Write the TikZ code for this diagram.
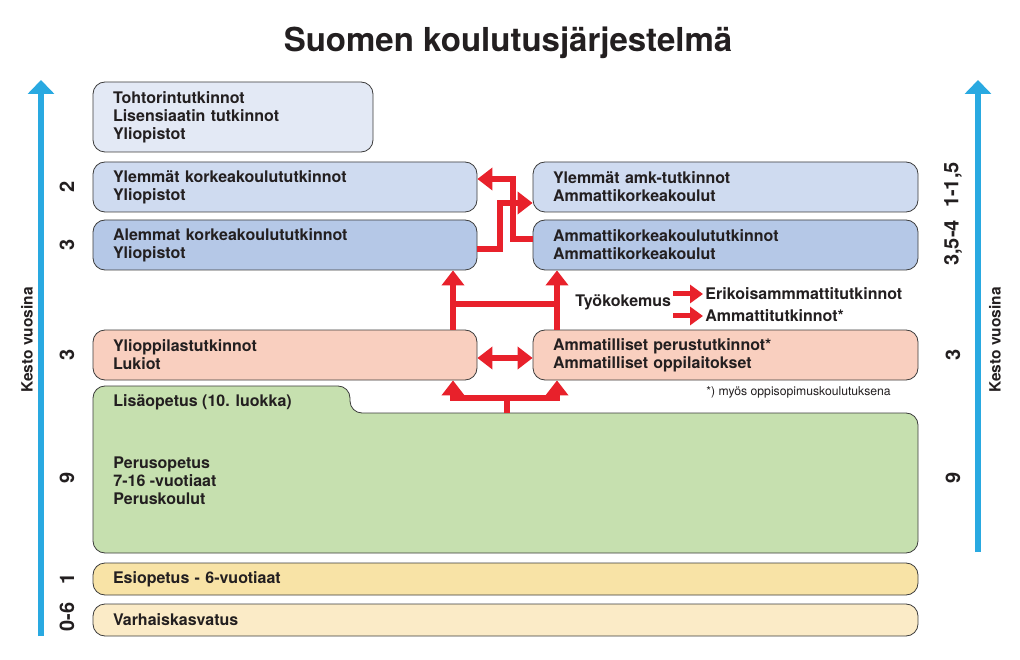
\documentclass[tikz,border=0pt]{standalone}
\usepackage{fontspec}
\setmainfont{TeX Gyre Heros}
\usetikzlibrary{arrows.meta,positioning}
\definecolor{tohtoriblue}{HTML}{E3E9F5}
\definecolor{lightblue}{HTML}{CFDBF0}
\definecolor{midblue}{HTML}{B5C8E7}
\definecolor{pinkbox}{HTML}{F9CFBF}
\definecolor{greenbox}{HTML}{C6E0AF}
\definecolor{yellowbox}{HTML}{F8E3A6}
\definecolor{creambox}{HTML}{FBEBC7}
\definecolor{arrowred}{HTML}{E8212B}
\definecolor{axisblue}{HTML}{29A9E1}
\definecolor{edgegray}{HTML}{3C3C3C}
\definecolor{textblack}{HTML}{231F20}

\begin{document}
\begin{tikzpicture}
[x=1pt, y=-1pt, line width=0.8pt,
level/.style={rectangle, draw=edgegray, rounded corners=12pt, inner xsep=20pt, inner ysep=0pt, align=left, text=textblack, font=\fontsize{16}{18}\selectfont\bfseries},
leftcol/.style={level, text width=344pt, minimum height=50pt},
rightcol/.style={level, text width=345pt, minimum height=50pt},
wide/.style={level, text width=785pt, minimum height=32pt},
note/.style={inner xsep=2pt, inner ysep=0pt, text=textblack, font=\fontsize{16}{18}\selectfont\bfseries},
years/.style={rotate=90, inner sep=0pt, text=textblack, font=\fontsize{20}{22}\selectfont\bfseries},
link/.style={draw=arrowred, line width=6pt},
route/.style={link, -{Triangle[width=22pt,length=15pt]}},
twoway/.style={link, {Triangle[width=22pt,length=15pt]}-{Triangle[width=22pt,length=15pt]}},
shortroute/.style={draw=arrowred, line width=5pt, -{Triangle[width=18pt,length=13pt]}},
axis/.style={draw=axisblue, line width=6pt, -{Triangle[width=26pt,length=14pt]}}]

\useasboundingbox[fill=white] (0,0) rectangle (1020,660);

\node[font=\fontsize{33}{36}\selectfont\bfseries, text=textblack, anchor=base] (title) at (508,52) {Suomen koulutusjärjestelmä};

% yliopistot ja ammattikorkeakoulut
\node[level, fill=tohtoriblue, text width=240pt, minimum height=70pt] (tohtori) at (233,117) {Tohtorintutkinnot\\Lisensiaatin tutkinnot\\Yliopistot};
\node[leftcol, fill=lightblue] (ylk) at (285,187) {Ylemmät korkeakoulututkinnot\\Yliopistot};
\node[leftcol, fill=midblue] (alemmat) at (285,245) {Alemmat korkeakoulututkinnot\\Yliopistot};
\node[rightcol, fill=lightblue] (ylamk) at (725.5,187) {Ylemmät amk-tutkinnot\\Ammattikorkeakoulut};
\node[rightcol, fill=midblue] (amkk) at (725.5,245) {Ammattikorkeakoulututkinnot\\Ammattikorkeakoulut};

% toinen aste
\node[leftcol, fill=pinkbox] (lukio) at (285,355) {Ylioppilastutkinnot\\Lukiot};
\node[rightcol, fill=pinkbox] (ammatill) at (725.5,355) {Ammatilliset perustutkinnot*\\Ammatilliset oppilaitokset};

% perusopetus
\draw[fill=greenbox, draw=edgegray, rounded corners=12pt] (93,470) -- (93,386) -- (350,386) -- (350,413) -- (918,413) -- (918,553) -- (93,553) -- cycle;
\coordinate (perustop) at (507,413);
\node[note, anchor=west] (lisa) at (111,402) {Lisäopetus (10. luokka)};
\node[note, anchor=west, align=left] (perus) at (111,481) {Perusopetus\\7-16 -vuotiaat\\Peruskoulut};

\node[wide, fill=yellowbox] (esi) at (505.5,579) {Esiopetus - 6-vuotiaat};
\node[wide, fill=creambox] (varhais) at (505.5,620) {Varhaiskasvatus};

% tyokokemus
\node[note, anchor=west] (tyo) at (573,302) {Työkokemus};
\node[note, anchor=west] (erik) at (703,294) {Erikoisammmattitutkinnot};
\node[note, anchor=west] (ammtut) at (703,316) {Ammattitutkinnot*};
\node[anchor=west, inner xsep=2pt, inner ysep=0pt, text=textblack, font=\fontsize{12.2}{14}\selectfont] (huom) at (704,392) {*) myös oppisopimuskoulutuksena};
\coordinate (t1) at (673,294);
\coordinate (t2) at (673,316);
\draw[shortroute] (t1) -- (erik.west);
\draw[shortroute] (t2) -- (ammtut.west);

% siirtymat
\coordinate (ua) at (453,304);
\coordinate (ub) at (557,304);
\coordinate (ga) at (507,398);
\coordinate (mid) at (505,358);
\coordinate (c1) at (500,203);
\coordinate (c2) at (513,179);
\draw[route] (ua |- lukio.north) -- (ua |- alemmat.south);
\draw[route] (ub |- ammatill.north) -- (ub |- amkk.south);
\draw[link] (ua) -- (ub);
\draw[link] (perustop) -- (ga);
\draw[route] (ga) -| (ua |- lukio.south);
\draw[route] (ga) -| (ub |- ammatill.south);
\draw[twoway] (mid -| lukio.east) -- (mid -| ammatill.west);
\draw[route] ([yshift=-4pt]alemmat.east) -| (c1) -- (c1 -| ylamk.west);
\draw[route] ([yshift=6pt]amkk.west) -| (c2) -- (c2 -| ylk.east);

% kesto
\coordinate (lb) at (41,636);
\coordinate (lt) at (41,80);
\coordinate (rb) at (978,552);
\coordinate (rt) at (978,80);
\draw[axis] (lb) -- (lt);
\draw[axis] (rb) -- (rt);
\node[years, font=\fontsize{15.5}{18}\selectfont\bfseries] (kestoL) at (27,340) {Kesto vuosina};
\node[years, font=\fontsize{15.5}{18}\selectfont\bfseries] (kestoR) at (995,340) {Kesto vuosina};
\foreach \y/\t [count=\i] in {187/2, 245/3, 355/3, 478/9, 579/1, 617/0-6}
  \node[years] (vl\i) at (67,\y) {\t};
\foreach \y/\t [count=\i] in {185/{1-1,5}, 243/{3,5-4}, 355/3, 478/9}
  \node[years] (vr\i) at (953,\y) {\t};
\end{tikzpicture}
\end{document}
